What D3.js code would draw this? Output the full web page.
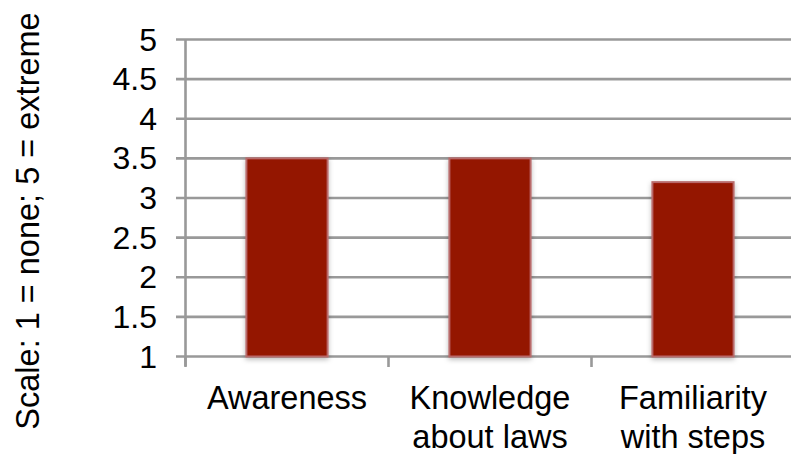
<!DOCTYPE html>
<html>
<head>
<meta charset="utf-8">
<script src="https://cdn.jsdelivr.net/npm/d3@7"></script>
<style>
  html, body { margin: 0; padding: 0; background: #fff; }
  svg { display: block; }
  text { font-family: "Liberation Sans", Arial, sans-serif; fill: #000; }
</style>
</head>
<body>
<svg id="chart" width="791" height="454"></svg>
<script>
// Survey scores per topic
const categories = ["Awareness", "Knowledge about laws", "Familiarity with steps"];
const categoryLines = [["Awareness"], ["Knowledge", "about laws"], ["Familiarity", "with steps"]];
const scores = [3.5, 3.5, 3.2];
const yTicks = [1, 1.5, 2, 2.5, 3, 3.5, 4, 4.5, 5];
const yTitle = "Scale: 1 = none; 5 = extreme";

const svg = d3.select("#chart");
const gridColor = "#999999";

const y = d3.scaleLinear().domain([1, 5]).range([356.5, 39.5]);
const x = d3.scaleBand().domain(categories).range([185.5, 794.5]).padding(0);
const barFrac = 0.4;

// soft shadow under the bars
const defs = svg.append("defs");
const f = defs.append("filter").attr("id", "barShadow")
  .attr("x", "-20%").attr("y", "-10%").attr("width", "140%").attr("height", "120%");
f.append("feDropShadow").attr("dx", 0).attr("dy", 2).attr("stdDeviation", 2.5)
  .attr("flood-color", "#000").attr("flood-opacity", 0.28);

// horizontal gridlines with short ticks left of the axis
svg.append("g").selectAll("line").data(yTicks).join("line")
  .attr("x1", 176).attr("x2", 794)
  .attr("y1", d => y(d)).attr("y2", d => y(d))
  .attr("stroke", gridColor).attr("stroke-width", 2.6);

// y tick labels
svg.append("g").selectAll("text").data(yTicks).join("text")
  .attr("x", 157).attr("y", d => y(d) + 11)
  .attr("text-anchor", "end")
  .style("font-size", "32px")
  .text(d => d);

// vertical axis line
svg.append("line")
  .attr("x1", x.range()[0]).attr("x2", x.range()[0])
  .attr("y1", y(5)).attr("y2", 366)
  .attr("stroke", gridColor).attr("stroke-width", 2.6);

// category boundary ticks below the baseline
const boundaries = categories.map(c => x(c));
svg.append("g").selectAll("line").data(boundaries).join("line")
  .attr("x1", d => d).attr("x2", d => d)
  .attr("y1", y(1)).attr("y2", 367)
  .attr("stroke", gridColor).attr("stroke-width", 2.6);

// bars
svg.append("g").selectAll("rect").data(categories).join("rect")
  .attr("x", c => x(c) + x.bandwidth() * (1 - barFrac) / 2)
  .attr("width", x.bandwidth() * barFrac)
  .attr("y", (c, i) => y(scores[i]))
  .attr("height", (c, i) => y(1) - y(scores[i]))
  .attr("fill", "#941200")
  .attr("stroke", "#b86b6b")
  .attr("stroke-width", 2)
  .attr("filter", "url(#barShadow)");

// category labels (wrapped)
const labels = svg.append("g").selectAll("text").data(categories).join("text")
  .attr("x", c => x(c) + x.bandwidth() / 2)
  .attr("y", 409)
  .attr("text-anchor", "middle")
  .style("font-size", "32.5px");
labels.each(function (c, i) {
  const t = d3.select(this);
  categoryLines[i].forEach((line, j) => {
    t.append("tspan")
      .attr("x", x(c) + x.bandwidth() / 2)
      .attr("dy", j === 0 ? 0 : 38.5)
      .text(line);
  });
});

// y-axis title
svg.append("text")
  .attr("transform", "translate(39,221) rotate(-90)")
  .attr("text-anchor", "middle")
  .style("font-size", "32.5px")
  .text(yTitle);
</script>
</body>
</html>
